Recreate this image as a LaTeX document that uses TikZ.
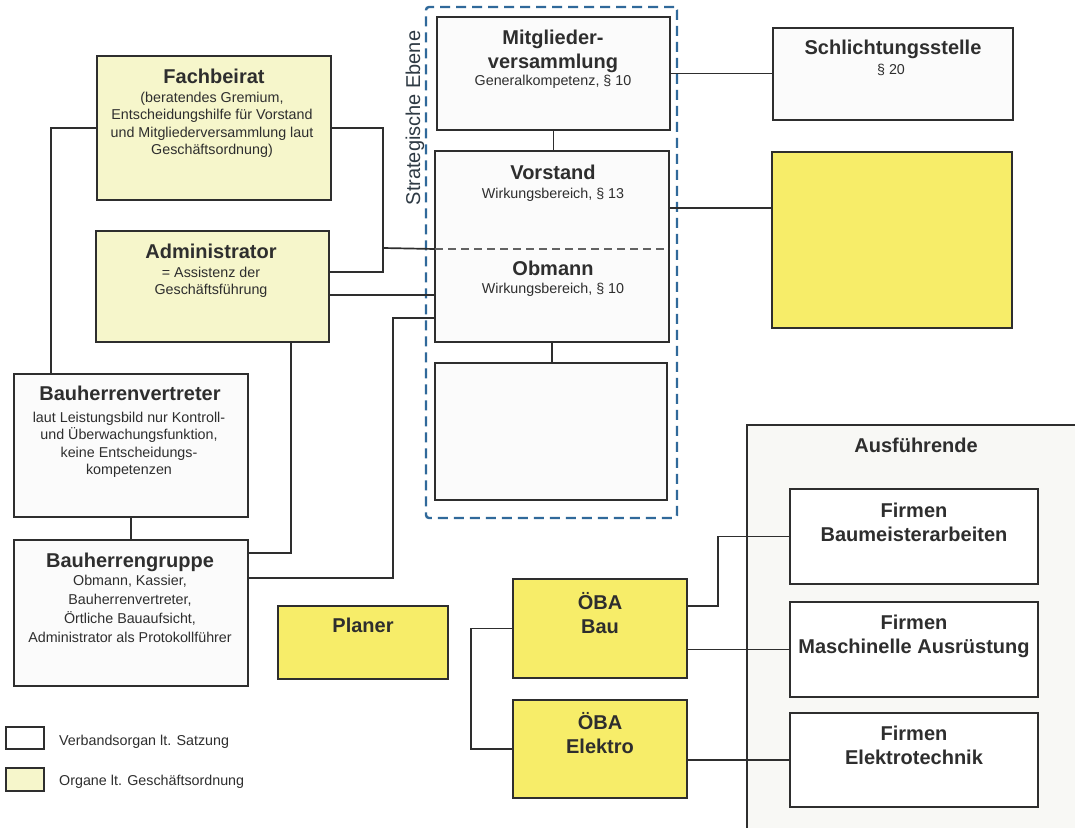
\documentclass[tikz,border=0pt]{standalone}
\usepackage{fontspec}
\setmainfont{Liberation Sans}
\usetikzlibrary{positioning}

\definecolor{ink}{HTML}{2E2E2E}
\definecolor{pale}{HTML}{F6F6CB}
\definecolor{gelb}{HTML}{F7ED69}
\definecolor{grau}{HTML}{F8F8F5}
\definecolor{weiss}{HTML}{FBFBFB}
\definecolor{stratblau}{HTML}{30699A}

\newcommand{\boxtitle}{\fontsize{20}{24}\selectfont\bfseries}
\newcommand{\boxbody}{\fontsize{14.3}{17.3}\selectfont}

\begin{document}
\begin{tikzpicture}[x=1pt, y=-1pt]
\useasboundingbox (0,0) rectangle (1075,827);
\clip (0,0) rectangle (1075,827);
\fill[white] (0,0) rectangle (1075,827);

\node (ausf) at (921,637.5) [draw=ink, line width=1.7pt, fill=grau, minimum width=348, minimum height=425] {};
\node (stratframe) at (551.5,262.5) [draw=stratblau, line width=2.4pt, dash pattern=on 10pt off 6pt, rounded corners=3pt, minimum width=251, minimum height=511] {};

\begin{scope}[every node/.style={rectangle, draw=ink, line width=2pt, fill=weiss, inner sep=0pt}]
    \node (fach) at (214,128) [fill=pale, minimum width=234, minimum height=144] {};
    \node (admin) at (212.5,286.5) [fill=pale, minimum width=233, minimum height=111] {};

    \node (mitglied) at (553.5,73.5) [minimum width=233, minimum height=113] {};
    \node (vorstand) at (552,200) [draw=none, minimum width=232, minimum height=96] {};
    \node (obmann) at (552,294.5) [draw=none, minimum width=232, minimum height=93] {};
    \node (leer) at (551,431.5) [minimum width=232, minimum height=137] {};

    \node (schlicht) at (893,74) [minimum width=240, minimum height=92] {};
    \node (gelbbox) at (892,240) [fill=gelb, minimum width=240, minimum height=176] {};

    \node (bvert) at (131,445.5) [minimum width=234, minimum height=143] {};
    \node (bgrp) at (131,613) [minimum width=234, minimum height=146] {};
    \node (planer) at (363,642.5) [fill=gelb, minimum width=170, minimum height=73] {};

    \node (obabau) at (600,628.5) [fill=gelb, minimum width=174, minimum height=99] {};
    \node (obaelek) at (600,749) [fill=gelb, minimum width=174, minimum height=98] {};

    \node (firmbau) at (914,536.5) [fill=white, minimum width=248, minimum height=95] {};
    \node (firmmasch) at (914,649.5) [fill=white, minimum width=248, minimum height=95] {};
    \node (firmelek) at (914,760) [fill=white, minimum width=248, minimum height=94] {};

    \node (legsatz) at (25,738) [fill=white, line width=1.5pt, minimum width=38, minimum height=22] {};
    \node (leggesch) at (25,779.5) [fill=pale, line width=1.5pt, minimum width=38, minimum height=23] {};
\end{scope}

\draw[ink, line width=2pt] (vorstand.north west) rectangle (obmann.south east);
\draw[ink!75, line width=1.6pt, dash pattern=on 8pt off 5pt] (vorstand.south west) -- (vorstand.south east);

\begin{scope}[ink, line width=1.7pt]
    \coordinate (jv) at (383,248);
    \coordinate (ko) at (393,318);
    \draw (fach.west) -| ([xshift=38pt]bvert.north west);
    \draw (fach.east) -| (jv) |- ([yshift=14.5pt]admin.east);
    \draw (jv) -- (vorstand.south west);
    \draw ([yshift=-8.5pt]admin.east) -- ([yshift=-8.5pt]admin.east -| obmann.west);
    \draw ([xshift=78.5pt]admin.south) |- ([yshift=60pt]bgrp.east);
    \draw (ko -| obmann.west) -- (ko) |- ([yshift=35pt]bgrp.east);
    \draw (mitglied.south) -- (mitglied.south |- vorstand.north);
    \draw (mitglied.east) -- (mitglied.east -| schlicht.west);
    \draw ([yshift=-8pt]vorstand.east) -- ([yshift=-8pt]vorstand.east -| gelbbox.west);
    \draw (obmann.south) -- (obmann.south |- leer.north);
    \draw (bvert.south) -- (bgrp.north);
    \draw (obabau.west) -- ++(-41,0) |- (obaelek.west);
    \draw ([yshift=22.5pt]obabau.east) -- ++(30,0) |- (firmbau.west);
    \draw (firmmasch.west) -- (firmmasch.west -| obabau.east);
    \draw (firmelek.west) -- (firmelek.west -| obaelek.east);
\end{scope}

\begin{scope}[every node/.style={align=center, text=ink, inner sep=0pt, anchor=north, font=\boxtitle}]
    \node (fachT) at (214,69) {Fachbeirat};
    \node (adminT) at (211,244) {Administrator};
    \node (mitgliedT) at (553,30) {Mitglieder-\\versammlung};
    \node (vorstandT) at (553,165) {Vorstand};
    \node (obmannT) at (553,261) {Obmann};
    \node (schlichtT) at (893,40) {Schlichtungsstelle};
    \node (bvertT) at (130,386) {Bauherrenvertreter};
    \node (bgrpT) at (130,553) {Bauherrengruppe};
    \node (planerT) at (363,618) {Planer};
    \node (ausfT) at (916,438) {Ausführende};
    \node (obabauT) at (600,592) {ÖBA\\Bau};
    \node (obaelekT) at (600,712) {ÖBA\\Elektro};
    \node (firmbauT) at (914,503) {Firmen\\Baumeisterarbeiten};
    \node (firmmaschT) at (914,615) {Firmen\\Maschinelle Ausrüstung};
    \node (firmelekT) at (914,726) {Firmen\\Elektrotechnik};
\end{scope}

\begin{scope}[every node/.style={align=center, text=ink, inner sep=0pt, anchor=north, font=\boxbody}]
    \node (fachB) at (212,92) {(beratendes Gremium,\\Entscheidungshilfe für Vorstand\\und Mitgliederversammlung laut\\Geschäftsordnung)};
    \node (adminB) at (211,267) {= Assistenz der\\Geschäftsführung};
    \node (mitgliedB) at (553,75) {Generalkompetenz, § 10};
    \node (vorstandB) at (553,188) {Wirkungsbereich, § 13};
    \node (obmannB) at (553,283) {Wirkungsbereich, § 10};
    \node (schlichtB) at (891,64) {§ 20};
    \node (bvertB) at (129,412) {laut Leistungsbild nur Kontroll-\\und Überwachungsfunktion,\\keine Entscheidungs-\\kompetenzen};
    \node (bgrpB) at (130,575) [font=\fontsize{14.3}{19}\selectfont] {Obmann, Kassier,\\Bauherrenvertreter,\\Örtliche Bauaufsicht,\\Administrator als Protokollführer};
    \node (legsatzT) at (59,742) [anchor=west] {Verbandsorgan lt. Satzung};
    \node (leggeschT) at (59,782) [anchor=west] {Organe lt. Geschäftsordnung};
\end{scope}

\node (stratT) at (415,118) [rotate=90, text=ink!80!stratblau, inner sep=0pt, font=\fontsize{20}{24}\selectfont] {Strategische Ebene};
\end{tikzpicture}
\end{document}
